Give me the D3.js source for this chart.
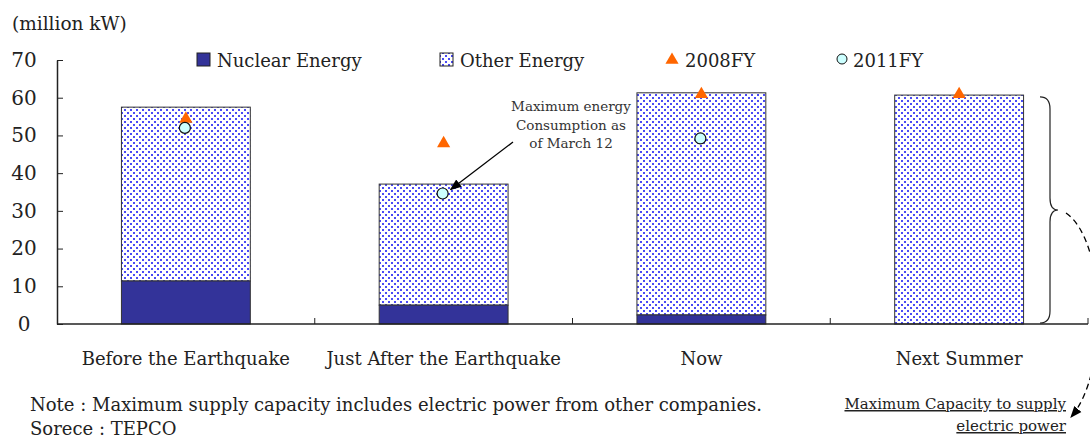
<!DOCTYPE html>
<html>
<head>
<meta charset="utf-8">
<script src="https://cdn.jsdelivr.net/npm/d3@7"></script>
<style>
  body { margin:0; background:#fff; }
  svg { display:block; font-family:"DejaVu Serif", serif; }
</style>
</head>
<body>
<div id="chart"></div>
<script>
// ---- data
var categories = ["Before the Earthquake", "Just After the Earthquake", "Now", "Next Summer"];
var nuclear = [11.4, 5.0, 2.4, 0];
var other = [46.1, 32.1, 58.9, 60.7];
var fy2008 = [54.4, 47.9, 60.9, 60.9];
var fy2011 = [52.0, 34.6, 49.2, null];
var yTicks = [0, 10, 20, 30, 40, 50, 60, 70];

var W = 1090, H = 438;
var margin = { left:57, right:2, top:60, bottom:114 };
var w = W - margin.left - margin.right;
var h = H - margin.top - margin.bottom;

var svg = d3.select("#chart").append("svg")
    .attr("width", W)
    .attr("height", H);

// dotted fill for "Other Energy"
var defs = svg.append("defs");
var pat = defs.append("pattern")
    .attr("id", "dots")
    .attr("patternUnits", "userSpaceOnUse")
    .attr("width", 6)
    .attr("height", 6);
pat.append("rect").attr("width", 6).attr("height", 6).attr("fill", "#fff");
pat.append("rect").attr("x", 1).attr("y", 1).attr("width", 2).attr("height", 2).attr("fill", "#4a4af5");
pat.append("rect").attr("x", 4).attr("y", 4).attr("width", 2).attr("height", 2).attr("fill", "#4a4af5");

defs.append("marker")
    .attr("id", "arrow")
    .attr("viewBox", "0 0 10 10")
    .attr("refX", 9).attr("refY", 5)
    .attr("markerWidth", 9).attr("markerHeight", 9)
    .attr("orient", "auto")
  .append("path")
    .attr("d", "M0,1 L10,5 L0,9 Z")
    .attr("fill", "#000");

var g = svg.append("g")
    .attr("transform", "translate(" + margin.left + "," + margin.top + ")");

var x = d3.scaleBand()
    .domain(categories)
    .range([0, w])
    .paddingInner(0)
    .paddingOuter(0);

var y = d3.scaleLinear()
    .domain([0, 70])
    .range([h, 0]);

var bw = x.bandwidth() / 2;

// ---- bars
categories.forEach(function(c, i) {
    var x0 = x(c) + x.bandwidth() / 2 - bw / 2;
    var total = nuclear[i] + other[i];

    g.append("rect")
        .attr("x", x0)
        .attr("y", y(total))
        .attr("width", bw)
        .attr("height", y(nuclear[i]) - y(total))
        .attr("fill", "url(#dots)")
        .attr("stroke", "#333")
        .attr("stroke-width", 1);

    if (nuclear[i] > 0) {
        g.append("rect")
            .attr("x", x0)
            .attr("y", y(nuclear[i]))
            .attr("width", bw)
            .attr("height", y(0) - y(nuclear[i]))
            .attr("fill", "#333399")
            .attr("stroke", "#333")
            .attr("stroke-width", 1);
    }
});

// ---- axes
var yAxis = d3.axisLeft(y)
    .tickValues(yTicks)
    .tickSizeInner(-6)
    .tickSizeOuter(0)
    .tickPadding(25);

var yG = g.append("g").call(yAxis);
yG.select(".domain").attr("stroke", "#222").attr("stroke-width", 1.5);
yG.selectAll(".tick line").attr("stroke", "#222");
yG.selectAll(".tick text")
    .attr("font-family", "DejaVu Serif")
    .attr("font-size", 20)
    .attr("fill", "#222")
    .attr("text-anchor", "middle")
    .attr("x", -33);

g.append("line")
    .attr("x1", 0).attr("x2", w)
    .attr("y1", h).attr("y2", h)
    .attr("stroke", "#222")
    .attr("stroke-width", 1.5);

categories.forEach(function(c) {
    var xe = x(c) + x.bandwidth();
    g.append("line")
        .attr("x1", xe).attr("x2", xe)
        .attr("y1", h).attr("y2", h - 6)
        .attr("stroke", "#222");
    g.append("text")
        .attr("x", x(c) + x.bandwidth() / 2)
        .attr("y", h + 41)
        .attr("text-anchor", "middle")
        .attr("font-size", 18)
        .attr("fill", "#222")
        .text(c);
});

// ---- markers
var tri = d3.symbol().type(d3.symbolTriangle).size(75);
fy2008.forEach(function(v, i) {
    g.append("path")
        .attr("d", tri)
        .attr("transform", "translate(" + (x(categories[i]) + x.bandwidth() / 2) + "," + y(v) + ")")
        .attr("fill", "#ff6600");
});
fy2011.forEach(function(v, i) {
    if (v == null) return;
    g.append("circle")
        .attr("cx", x(categories[i]) + x.bandwidth() / 2 - 1)
        .attr("cy", y(v))
        .attr("r", 5.5)
        .attr("fill", "#ccffff")
        .attr("stroke", "#111")
        .attr("stroke-width", 1.2);
});

// ---- unit label
svg.append("text")
    .attr("x", 12).attr("y", 30)
    .attr("font-size", 18.5)
    .attr("fill", "#222")
    .text("(million kW)");

// ---- legend
var legend = svg.append("g").attr("font-size", 18).attr("fill", "#222");

legend.append("rect")
    .attr("x", 197).attr("y", 53).attr("width", 13).attr("height", 13)
    .attr("fill", "#333399").attr("stroke", "#222");
legend.append("text").attr("x", 217).attr("y", 67).text("Nuclear Energy");

legend.append("rect")
    .attr("x", 440).attr("y", 53).attr("width", 13).attr("height", 13)
    .attr("fill", "url(#dots)").attr("stroke", "#222");
legend.append("text").attr("x", 460).attr("y", 67).text("Other Energy");

legend.append("path")
    .attr("d", tri)
    .attr("transform", "translate(672,60)")
    .attr("fill", "#ff6600");
legend.append("text").attr("x", 685).attr("y", 67).text("2008FY");

legend.append("circle")
    .attr("cx", 842).attr("cy", 59).attr("r", 5)
    .attr("fill", "#ccffff").attr("stroke", "#111");
legend.append("text").attr("x", 853).attr("y", 67).text("2011FY");

// ---- annotation on the 2nd bar
var ann = svg.append("text")
    .attr("font-size", 13.5)
    .attr("fill", "#333")
    .attr("text-anchor", "middle");
["Maximum energy", "Consumption as", "of March 12"].forEach(function(t, i) {
    ann.append("tspan").attr("x", 571).attr("y", 111 + i * 18.5).text(t);
});

var cx2 = margin.left + x(categories[1]) + x.bandwidth() / 2;
svg.append("line")
    .attr("x1", 513).attr("y1", 142)
    .attr("x2", cx2 + 7).attr("y2", margin.top + y(fy2011[1]) - 4)
    .attr("stroke", "#000")
    .attr("stroke-width", 1.3)
    .attr("marker-end", "url(#arrow)");

// ---- brace next to "Next Summer"
var bTop = margin.top + y(60.2), bBot = margin.top + y(0) - 1;
var bMid = (bTop + bBot) / 2;
var bx = 1050;
var brace = d3.path();
brace.moveTo(bx - 10, bTop);
brace.quadraticCurveTo(bx, bTop, bx, bTop + 12);
brace.lineTo(bx, bMid - 12);
brace.quadraticCurveTo(bx, bMid, bx + 8, bMid);
brace.quadraticCurveTo(bx, bMid, bx, bMid + 12);
brace.lineTo(bx, bBot - 12);
brace.quadraticCurveTo(bx, bBot, bx - 10, bBot);
svg.append("path")
    .attr("d", brace.toString())
    .attr("fill", "none")
    .attr("stroke", "#222")
    .attr("stroke-width", 1.2);

svg.append("path")
    .attr("d", "M" + (bx + 16) + "," + (bMid + 3) + " C1106,240 1110,372 1071,417")
    .attr("fill", "none")
    .attr("stroke", "#000")
    .attr("stroke-width", 1.3)
    .attr("stroke-dasharray", "6,4")
    .attr("marker-end", "url(#arrow)");

// ---- capacity note, underlined
var cap = svg.append("g").attr("font-size", 15).attr("fill", "#222").attr("text-anchor", "end");
cap.append("text").attr("x", 1066).attr("y", 409).attr("text-decoration", "underline").text("Maximum Capacity to supply");
cap.append("text").attr("x", 1066).attr("y", 431).attr("text-decoration", "underline").text("electric power");

// ---- footnotes
svg.append("text")
    .attr("x", 30).attr("y", 411)
    .attr("font-size", 18)
    .attr("fill", "#222")
    .text("Note : Maximum supply capacity includes electric power from other companies.");
svg.append("text")
    .attr("x", 30).attr("y", 435)
    .attr("font-size", 18)
    .attr("fill", "#222")
    .text("Sorece : TEPCO");
</script>
</body>
</html>
